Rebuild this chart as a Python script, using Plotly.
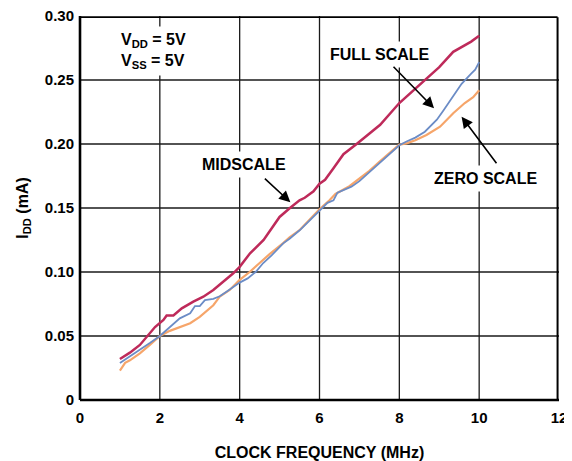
import plotly.graph_objects as go

# ---- data ----
mid_x = [1.0, 1.25, 1.5, 1.67, 1.88, 2.09, 2.17, 2.34, 2.55, 2.84, 3.09, 3.34, 3.59, 3.84, 4.0,
         4.26, 4.6, 5.0, 5.26, 5.5, 5.63, 5.85, 6.0, 6.14, 6.35, 6.6, 6.93, 7.52, 8.0, 8.64,
         9.0, 9.35, 9.56, 9.8, 10.0]
mid_y = [0.032, 0.037, 0.043, 0.0495, 0.057, 0.0625, 0.066, 0.066, 0.0716, 0.0768, 0.0807, 0.086,
         0.0924, 0.099, 0.104, 0.1146, 0.125, 0.143, 0.150, 0.156, 0.158, 0.163, 0.169, 0.172,
         0.181, 0.192, 0.200, 0.215, 0.232, 0.250, 0.260, 0.272, 0.276, 0.280, 0.2846]

full_x = [1.0, 1.25, 1.5, 1.75, 2.0, 2.25, 2.5, 2.76, 2.88, 3.0, 3.13, 3.34, 3.5, 3.67, 4.0, 4.2,
          4.4, 4.59, 4.8, 5.09, 5.25, 5.51, 5.75, 6.0, 6.2, 6.35, 6.45, 6.8, 7.0, 7.25, 7.5,
          7.75, 8.0, 8.18, 8.4, 8.64, 8.94, 9.1, 9.27, 9.56, 9.8, 9.9, 10.0]
full_y = [0.029, 0.034, 0.039, 0.0445, 0.050, 0.0573, 0.0638, 0.0677, 0.0734, 0.0734, 0.078, 0.079,
          0.081, 0.0846, 0.0917, 0.095, 0.100, 0.107, 0.113, 0.1224, 0.126, 0.1328, 0.140, 0.148,
          0.154, 0.156, 0.162, 0.1667, 0.171, 0.178, 0.185, 0.192, 0.199, 0.202, 0.205, 0.2096,
          0.219, 0.226, 0.234, 0.247, 0.255, 0.258, 0.264]

zero_x = [1.0, 1.13, 1.25, 1.5, 1.75, 2.0, 2.25, 2.5, 2.76, 3.0, 3.34, 3.5, 3.75, 4.0, 4.25, 4.5,
          4.75, 5.09, 5.25, 5.51, 5.75, 6.0, 6.25, 6.4, 6.75, 7.0, 7.25, 7.5, 7.75, 8.0, 8.18,
          8.4, 8.68, 9.02, 9.35, 9.64, 9.85, 10.0]
zero_y = [0.023, 0.029, 0.031, 0.0365, 0.043, 0.050, 0.054, 0.057, 0.060, 0.065, 0.074, 0.0807,
          0.086, 0.0938, 0.100, 0.107, 0.114, 0.1226, 0.127, 0.133, 0.141, 0.149, 0.156, 0.161,
          0.167, 0.173, 0.179, 0.186, 0.193, 0.1995, 0.2005, 0.203, 0.207, 0.2135, 0.224, 0.232,
          0.2365, 0.242]

x_ticks = [0, 2, 4, 6, 8, 10, 12]
x_ticktext = ["0", "2", "4", "6", "8", "10", "12"]
y_ticks = [0, 0.05, 0.10, 0.15, 0.20, 0.25, 0.30]
y_ticktext = ["0", "0.05", "0.10", "0.15", "0.20", "0.25", "0.30"]

RED = "#BE2A5A"
BLUE = "#6B8CC6"
ORANGE = "#F6A56A"
FONT = "Liberation Sans"
BOLD = dict(family=FONT, size=16, color="black", weight="bold")
TICKF = dict(family=FONT, size=15, color="black", weight="bold")

fig = go.Figure()
fig.add_trace(go.Scatter(x=zero_x, y=zero_y, mode="lines", line=dict(color=ORANGE, width=2.2),
                         name="ZERO SCALE"))
fig.add_trace(go.Scatter(x=full_x, y=full_y, mode="lines", line=dict(color=BLUE, width=1.8),
                         name="FULL SCALE"))
fig.add_trace(go.Scatter(x=mid_x, y=mid_y, mode="lines", line=dict(color=RED, width=2.5),
                         name="MIDSCALE"))

# grid lines at the inner tick positions
GRID = "#1a1a1a"
for xv in x_ticks[1:-1]:
    fig.add_shape(type="line", xref="x", yref="paper", x0=xv, x1=xv, y0=0, y1=1,
                  line=dict(color=GRID, width=1.3), layer="below")
for yv in y_ticks[1:-1]:
    fig.add_shape(type="line", xref="paper", yref="y", x0=0, x1=1, y0=yv, y1=yv,
                  line=dict(color=GRID, width=1.3), layer="below")
# frame: top, right (thin, drawn a hair inside the edge) and bottom, left (thick)
fig.add_shape(type="line", xref="paper", yref="paper", x0=0, x1=0.997, y0=0.997, y1=0.997,
              line=dict(color="black", width=1.6), layer="above")
fig.add_shape(type="line", xref="paper", yref="paper", x0=0.997, x1=0.997, y0=0, y1=0.997,
              line=dict(color="black", width=2.0), layer="above")
fig.add_shape(type="line", xref="paper", yref="paper", x0=0, x1=1, y0=0, y1=0,
              line=dict(color="black", width=2.6), layer="above")
fig.add_shape(type="line", xref="paper", yref="paper", x0=0, x1=0, y0=0, y1=1,
              line=dict(color="black", width=2.6), layer="above")

txt = dict(showarrow=False, bgcolor="white", borderpad=4, font=BOLD)
fig.add_annotation(x=1.83, y=0.2727, text="V<sub>DD</sub> = 5V<br>V<sub>SS</sub> = 5V",
                   align="left", **txt)
fig.add_annotation(x=4.11, y=0.1836, text="MIDSCALE", **txt)
fig.add_annotation(x=7.51, y=0.2703, text="FULL SCALE", **txt)
fig.add_annotation(x=10.17, y=0.1727, text="ZERO SCALE", **txt)

arr = dict(text="", showarrow=True, arrowhead=2, arrowsize=1.4, arrowwidth=1.6,
           arrowcolor="black", standoff=0, startstandoff=0)
fig.add_annotation(x=5.27, y=0.1545, ax=-27, ay=-25, **arr)
fig.add_annotation(x=8.87, y=0.2279, ax=-42, ay=-43, **arr)
fig.add_annotation(x=9.56, y=0.2213, ax=36, ay=48, **arr)

axis_common = dict(showgrid=False, showline=False, zeroline=False,
                   ticks="outside", tickcolor="rgba(0,0,0,0)",
                   ticklabeloverflow="allow", automargin=False, tickfont=TICKF)

# page body has an 8px margin; the figure is sized so the plot area lands where the reference has it
fig.update_layout(
    width=564, height=453,
    margin=dict(l=72, r=13, t=8, b=61),
    paper_bgcolor="white", plot_bgcolor="white",
    showlegend=False,
    font=BOLD,
    xaxis=dict(range=[0, 12], tickvals=x_ticks, ticktext=x_ticktext, ticklen=4,
               title=dict(text="CLOCK FREQUENCY (MHz)", standoff=25, font=BOLD),
               **axis_common),
    yaxis=dict(range=[0, 0.30], tickvals=y_ticks, ticktext=y_ticktext, ticklen=2,
               title=dict(text="I<sub>DD</sub> (mA)", standoff=12, font=BOLD),
               **axis_common),
)

fig.write_html("out.html", config={"displayModeBar": False})
